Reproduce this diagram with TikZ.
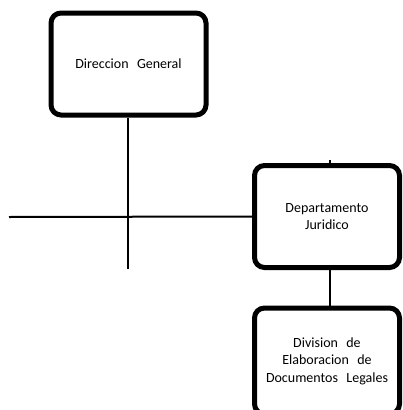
\documentclass[tikz,border=0pt]{standalone}
\usepackage{fontspec}
\setmainfont{Carlito}
\tikzset{
  box/.style={draw, line width=5pt, rounded corners=10pt, align=center,
    font=\fontsize{14}{17.5}\selectfont, inner sep=0pt},
  link/.style={line width=2pt}
}
\newcommand{\gap}{\hspace{0.6em}}
\begin{document}
\begin{tikzpicture}[x=1pt,y=-1pt]
  \useasboundingbox (0,0) rectangle (402,410);
  \clip (0,0) rectangle (402,410);
  \node[box, minimum width=155pt, minimum height=102pt] (dir) at (128.5,64)
    {Direccion\gap General};
  \node[box, minimum width=145pt, minimum height=102pt] (dep) at (327,216.5)
    {Departamento\\Juridico};
  \node[box, minimum width=145pt, minimum height=106pt] (div) at (327,361)
    {Division\gap de\\Elaboracion\gap de\\Documentos\gap Legales};
  \coordinate (end) at (128,269);
  \coordinate (left) at (9,217);
  \begin{scope}[link]
    \draw (dir.south -| end) -- (end);
    \draw (left) -- (dep.west);
    \draw ([xshift=3pt]dep.south) -- ([xshift=3pt]div.north);
    \draw ([xshift=3pt]dep.north) -- ++(0,-3);
  \end{scope}
\end{tikzpicture}
\end{document}
